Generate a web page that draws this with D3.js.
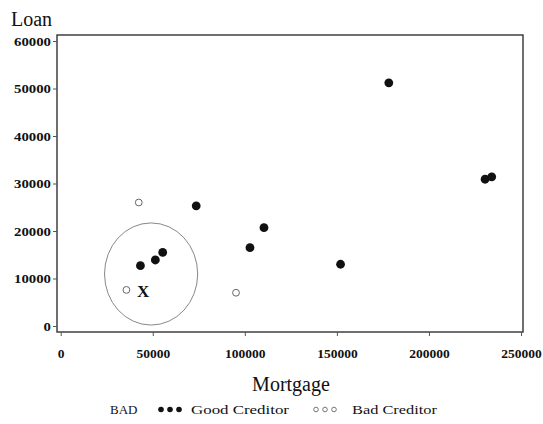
<!DOCTYPE html>
<html><head><meta charset="utf-8">
<script src="https://cdn.jsdelivr.net/npm/d3@7"></script>
<style>
body{margin:0;background:#fff;}
svg{display:block;}
text{font-family:"Liberation Serif","Times New Roman",serif;fill:#111;}
</style></head>
<body>
<svg id="c" width="543" height="424"></svg>
<script>
const xTicks = [0, 50000, 100000, 150000, 200000, 250000];
const yTicks = [0, 10000, 20000, 30000, 40000, 50000, 60000];
const goodMortgage = [43300, 51400, 55400, 73600, 102800, 110400, 152000, 178200, 230500, 234100];
const goodLoan     = [12700, 13900, 15500, 25300, 16500, 20700, 13000, 51200, 30900, 31400];
const badMortgage  = [42400, 35700, 95200];
const badLoan      = [26000, 7600, 7000];
const circleCenter = [49100, 10950];
const circleRadii  = [25300, 10750];
const markLabel = "X";
const markAt = [41400, 6100];
const legendTitle = "BAD";
const legendItems = ["Good Creditor", "Bad Creditor"];

const svg = d3.select("#c");
const x = d3.scaleLinear().domain([0, 250000]).range([60.7, 521]);
const y = d3.scaleLinear().domain([0, 60000]).range([326, 41]);
const frame = {l: 57, r: 523, t: 35, b: 332};

// frame
svg.append("rect").attr("x", frame.l).attr("y", frame.t)
  .attr("width", frame.r - frame.l).attr("height", frame.b - frame.t)
  .attr("fill", "none").attr("stroke", "#333").attr("stroke-width", 1.4);

// x axis
const gx = svg.append("g").attr("transform", `translate(0,${frame.b})`)
  .call(d3.axisBottom(x).tickValues(xTicks).tickSize(4).tickPadding(12).tickFormat(d3.format("d")));
gx.select(".domain").remove();
gx.selectAll(".tick line").attr("stroke", "#555");
gx.selectAll(".tick text").attr("font-size", 13.5).attr("font-weight", "bold")
  .style("font-family", "'Liberation Serif',serif").attr("fill", "#111");

// y axis
const gy = svg.append("g").attr("transform", `translate(${frame.l},0)`)
  .call(d3.axisLeft(y).tickValues(yTicks).tickSize(4).tickPadding(2).tickFormat(d3.format("d")));
gy.select(".domain").remove();
gy.selectAll(".tick line").attr("stroke", "#555");
gy.selectAll(".tick text").attr("font-size", 13).attr("font-weight", "bold")
  .style("font-family", "'Liberation Serif',serif").attr("fill", "#111")
  .attr("textLength", d => String(d).length * 7.4).attr("lengthAdjust", "spacingAndGlyphs");

// titles
svg.append("text").attr("x", 11).attr("y", 26).attr("font-size", 20).text("Loan");
svg.append("text").attr("x", 291).attr("y", 391).attr("text-anchor", "middle").attr("font-size", 20).text("Mortgage");

// ellipse annotation
svg.append("ellipse")
  .attr("cx", x(circleCenter[0])).attr("cy", y(circleCenter[1]))
  .attr("rx", x(circleRadii[0]) - x(0)).attr("ry", y(0) - y(circleRadii[1]))
  .attr("fill", "none").attr("stroke", "#888").attr("stroke-width", 1);

// points
svg.append("g").selectAll("circle").data(goodMortgage.map((m, i) => [m, goodLoan[i]]))
  .join("circle").attr("cx", d => x(d[0])).attr("cy", d => y(d[1])).attr("r", 4.4).attr("fill", "#111");
svg.append("g").selectAll("circle").data(badMortgage.map((m, i) => [m, badLoan[i]]))
  .join("circle").attr("cx", d => x(d[0])).attr("cy", d => y(d[1])).attr("r", 3.4)
  .attr("fill", "#fff").attr("stroke", "#666").attr("stroke-width", 1);

svg.append("text").attr("x", x(markAt[0])).attr("y", y(markAt[1])).attr("font-size", 17)
  .attr("font-weight", "bold").text(markLabel);

// legend
const ly = 414;
svg.append("text").attr("x", 110).attr("y", ly).attr("font-size", 13).text(legendTitle);
[161, 170, 179].forEach(cx => svg.append("circle").attr("cx", cx).attr("cy", ly - 4.5).attr("r", 2.8).attr("fill", "#111"));
svg.append("text").attr("x", 191).attr("y", ly).attr("font-size", 13)
  .attr("textLength", 98).attr("lengthAdjust", "spacingAndGlyphs").text(legendItems[0]);
[316, 325, 334].forEach(cx => svg.append("circle").attr("cx", cx).attr("cy", ly - 4.5).attr("r", 2.3)
  .attr("fill", "#fff").attr("stroke", "#666").attr("stroke-width", 0.9));
svg.append("text").attr("x", 352).attr("y", ly).attr("font-size", 13)
  .attr("textLength", 85).attr("lengthAdjust", "spacingAndGlyphs").text(legendItems[1]);
</script>
</body></html>
